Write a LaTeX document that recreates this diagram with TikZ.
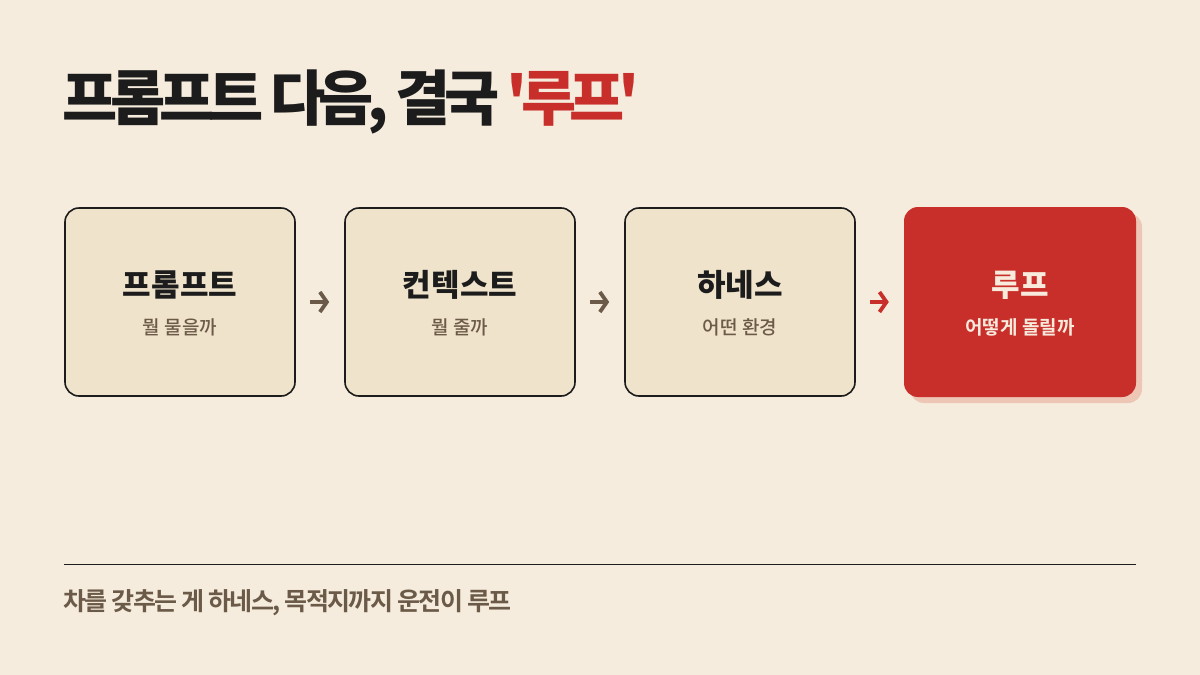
\documentclass[tikz,border=0pt]{standalone}
\usepackage{fontspec}
\usetikzlibrary{arrows.meta, shadows}
\newfontfamily\krblack{Noto Sans CJK KR Black}
\newfontfamily\krtight{Noto Sans CJK KR Black}[LetterSpace=-11]
\newfontfamily\krbold{Noto Sans CJK KR Bold}
\newfontfamily\krfoot{Noto Sans CJK KR Bold}[LetterSpace=-6.5]
\newfontfamily\krmed{Noto Sans CJK KR Medium}
\definecolor{paper}{HTML}{F5ECDD}
\definecolor{cardfill}{HTML}{F0E3CB}
\definecolor{ink}{HTML}{1C1C1C}
\definecolor{loopred}{HTML}{C82F2A}
\definecolor{brownish}{HTML}{6B5A48}
\definecolor{shadowpink}{HTML}{EEC6B6}
\definecolor{cream}{HTML}{F8EBDD}

\tikzset{
	stepbox/.style = {draw=ink, line width=1.6pt, fill=cardfill, rounded corners=14pt,
		minimum width=230pt, minimum height=188pt, inner sep=0pt},
	loopbox/.style = {fill=loopred, rounded corners=14pt,
		minimum width=232pt, minimum height=190pt, inner sep=0pt,
		drop shadow={shadow xshift=6pt, shadow yshift=-6pt, fill=shadowpink, opacity=1}},
	boxtitle/.style = {font=\krblack\fontsize{31}{31}\selectfont, text=ink, inner sep=0pt},
	boxsub/.style = {font=\krmed\fontsize{19}{19}\selectfont, text=brownish, inner sep=0pt},
	flowarrow/.style = {draw=brownish, line width=3.8pt, shorten <=14pt, shorten >=15pt,
		-{Straight Barb[length=7pt, width=20pt]}}
}

\begin{document}
\begin{tikzpicture}[x=1pt, y=-1pt]
\useasboundingbox (0,0) rectangle (1200,675);
\fill [paper] (0,0) rectangle (1200,675);

% headline
\node [anchor=base west, inner sep=0pt, text=ink,
	font=\krtight\fontsize{60}{60}\selectfont] (headline) at (62,120)
	{프롬프트 다음, 결국 \textcolor{loopred}{'루프'}};

% the three steps
\foreach \i/\name/\sub in {1/프롬프트/뭘 물을까, 2/컨텍스트/뭘 줄까, 3/하네스/어떤 환경}{
	\node [stepbox] (step \i) at (180+280*\i-280, 302) {};
	\node [boxtitle] (title \i) at (180+280*\i-280, 285) {\name};
	\node [boxsub] (sub \i) at (180+280*\i-280, 327) {\sub};
}

% the loop
\node [loopbox] (step 4) at (1020, 302) {};
\node [boxtitle, text=cream] (title 4) at (1020, 285) {루프};
\node [boxsub, font=\krbold\fontsize{19}{19}\selectfont, text=cream] (sub 4) at (1020, 327) {어떻게 돌릴까};

\draw [flowarrow] (step 1) -- (step 2);
\draw [flowarrow] (step 2) -- (step 3);
\draw [flowarrow, draw=loopred] (step 3) -- (step 4);

% footer
\coordinate (rule left) at (64,564);
\coordinate (rule right) at (1136,564);
\draw [ink, line width=1pt] (rule left) -- (rule right);
\node [anchor=base west, inner sep=0pt, text=brownish,
	font=\krfoot\fontsize{25}{25}\selectfont] (footer) at (63,610)
	{차를 갖추는 게 하네스, 목적지까지 운전이 루프};
\end{tikzpicture}
\end{document}
